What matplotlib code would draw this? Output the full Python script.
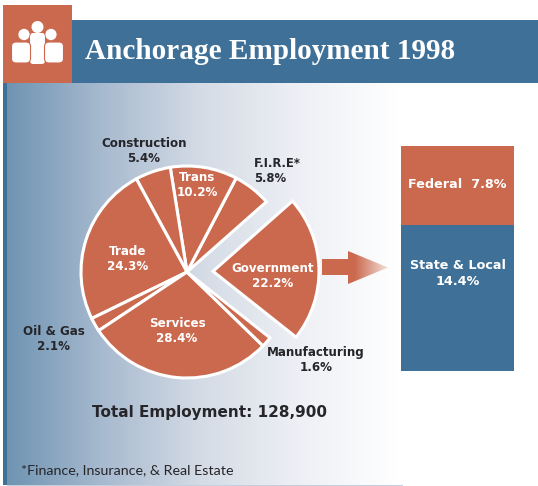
"""
Anchorage employment by sector in 1998, pie plus a breakdown of government jobs.
"""
import numpy as np
import matplotlib
matplotlib.use('Agg')
import matplotlib.pyplot as plt
import matplotlib.patches as patches
from matplotlib.colors import LinearSegmentedColormap

sectors = ['F.I.R.E*', 'Trans', 'Construction', 'Trade', 'Oil & Gas', 'Services', 'Manufacturing', 'Government']
shares = [5.8, 10.2, 5.4, 24.3, 2.1, 28.4, 1.6, 22.2]
gov_labels = ['State & Local', 'Federal']
gov_shares = [14.4, 7.8]

W, H = 538, 486
ORANGE = '#cb694e'
BLUE = '#3f7198'
DARK = '#26262a'
LABEL_FONT = 'DejaVu Sans'


def y(py):
    return H - py


fig = plt.figure(figsize=(W / 100, H / 100), dpi=100)
ax = fig.add_axes([0, 0, 1, 1])

# header and page background
back = LinearSegmentedColormap.from_list('back', ['#6f94b2', '#a9bbd0', '#d5dce6', '#eef0f5', '#ffffff'])
ax.imshow(np.linspace(0, 1, 256).reshape(1, -1), cmap=back, aspect='auto',
          extent=(7, 400, y(485), y(83)), zorder=0)
ax.add_patch(patches.Rectangle((3, y(485)), 4, 402, color=BLUE, lw=0, zorder=1))
ax.add_patch(patches.Rectangle((7, y(486)), 396, 1.2, color='#c3cfdc', lw=0, zorder=1))
ax.add_patch(patches.Rectangle((72, y(83)), W - 72, 63, color=BLUE, lw=0, zorder=1))
ax.add_patch(patches.Rectangle((3, y(83)), 69, 78, color=ORANGE, lw=0, zorder=2))
ax.text(85, y(52), 'Anchorage Employment 1998', color='white', fontsize=21.1, fontweight='bold',
        family='Liberation Serif', ha='left', va='center', zorder=3)

# people icon
ax.add_patch(patches.Circle((37.5, y(27)), 6, fc='white', ec='none', zorder=3))
ax.add_patch(patches.FancyBboxPatch((32, y(62)), 11, 27, boxstyle='round,pad=2,rounding_size=3',
                                    fc='white', ec='none', zorder=3))
for cx, bx in [(24, 11.5), (51, 44.5)]:
    ax.add_patch(patches.Circle((cx, y(34.5)), 6, fc='white', ec=ORANGE, lw=0.5, zorder=4))
    ax.add_patch(patches.FancyBboxPatch((bx + 3, y(62.5) + 2.5), 13, 15, boxstyle='round,pad=3,rounding_size=4.5',
                                        fc='white', ec=ORANGE, lw=0.8, zorder=4))

# pie
explode = [26 if s == 'Government' else 0 for s in sectors]
ax.pie(shares, explode=explode, startangle=41.5, radius=106, center=(187, y(272)), colors=[ORANGE] * len(shares),
       wedgeprops={'edgecolor': 'white', 'linewidth': 2.2, 'zorder': 5}, frame=True)

white_labels = {'Trans': (197, 185), 'Trade': (128, 259), 'Services': (177, 331), 'Government': (273, 276)}
dark_labels = {'Construction': (144, 151), 'Oil & Gas': (54, 339), 'Manufacturing': (316, 360)}
for name, share in zip(sectors, shares):
    txt = f'{name}\n{share}%'
    if name in white_labels:
        px, py = white_labels[name]
        ax.text(px, y(py), txt, color='white', fontsize=8.6, fontweight='bold', family=LABEL_FONT,
                ha='center', va='center', linespacing=1.25, zorder=6)
    elif name in dark_labels:
        px, py = dark_labels[name]
        ax.text(px, y(py), txt, color=DARK, fontsize=8.6, fontweight='bold', family=LABEL_FONT,
                ha='center', va='center', linespacing=1.25, zorder=6)
    else:
        # the F.I.R.E label is set flush left in the original
        ax.text(254, y(171), txt, color=DARK, fontsize=8.4, fontweight='bold', family=LABEL_FONT,
                ha='left', va='center', multialignment='left', linespacing=1.25, zorder=6)

ax.text(209, y(412), 'Total Employment: 128,900', color=DARK, fontsize=11, fontweight='bold',
        family=LABEL_FONT, ha='center', va='center', zorder=6)
ax.text(21, y(470), '*Finance, Insurance, & Real Estate', color=DARK, fontsize=10.3, family='Lato',
        ha='left', va='center', zorder=6)

# arrow fading out toward the government bar
arrow = patches.Polygon([(322, y(259)), (348, y(259)), (348, y(251)), (388, y(267.5)), (348, y(284)),
                         (348, y(275)), (322, y(275))], closed=True, fc='none', ec='none', zorder=4)
ax.add_patch(arrow)
fade = LinearSegmentedColormap.from_list('fade', [ORANGE, ORANGE, '#f3e0d8'])
grad = ax.imshow(np.linspace(0, 1, 128).reshape(1, -1), cmap=fade, aspect='auto',
                 extent=(322, 388, y(284), y(251)), zorder=4)
grad.set_clip_path(arrow)

ax.set_xlim(0, W)
ax.set_ylim(0, H)
ax.set_aspect('auto')
ax.axis('off')

# government breakdown, stacked on its own axes
bar_ax = fig.add_axes([401 / W, y(371) / H, 113 / W, 225 / H])
bar_ax.bar(0, gov_shares[0], width=1, color=BLUE)
bar_ax.bar(0, gov_shares[1], width=1, bottom=gov_shares[0], color=ORANGE)
bar_ax.set_xlim(-0.5, 0.5)
bar_ax.set_ylim(0, sum(gov_shares))
bar_ax.axis('off')
bar_ax.text(0, 9.6, f'{gov_labels[0]}\n{gov_shares[0]}%', color='white', fontsize=9.2, fontweight='bold',
            family=LABEL_FONT, ha='center', va='center', linespacing=1.3)
bar_ax.text(0, 18.4, f'{gov_labels[1]}  {gov_shares[1]}%', color='white', fontsize=9.2, fontweight='bold',
            family=LABEL_FONT, ha='center', va='center')

fig.savefig('out.png', dpi=100)
